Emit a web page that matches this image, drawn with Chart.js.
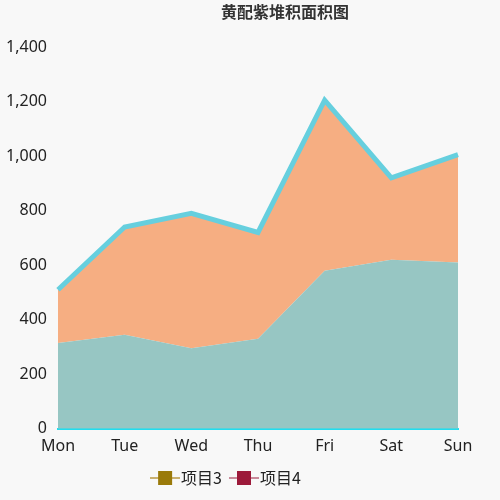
<!DOCTYPE html>
<html>
<head>
<meta charset="utf-8">
<script src="https://cdn.jsdelivr.net/npm/chart.js@4"></script>
<style>
  body { margin: 0; background: #f8f8f8; }
  #wrap { width: 500px; height: 500px; }
</style>
</head>
<body>
<div id="wrap"><canvas id="c" width="500" height="500"></canvas></div>
<script>
const days = ['Mon', 'Tue', 'Wed', 'Thu', 'Fri', 'Sat', 'Sun'];
const item3 = [315, 345, 295, 330, 580, 620, 610];
const item4 = [195, 395, 495, 390, 625, 300, 395];
const chartTitle = '黄配紫堆积面积图';

// legend marker: short line with a square in the middle
function marker(color, lineColor) {
  const cv = document.createElement('canvas');
  cv.width = 30; cv.height = 14;
  const g = cv.getContext('2d');
  g.strokeStyle = lineColor; g.lineWidth = 2;
  g.beginPath(); g.moveTo(0, 7); g.lineTo(30, 7); g.stroke();
  g.fillStyle = color; g.fillRect(8, 0, 14, 14);
  return cv;
}
const m3 = marker('#9a7a0a', '#c9b070');
const m4 = marker('#9c1a3a', '#c98a9a');

// title centred over the plot area
const titlePlugin = {
  id: 'plotTitle',
  afterDraw(chart) {
    const g = chart.ctx, a = chart.chartArea;
    g.save();
    g.font = 'bold 16px "Noto Sans CJK SC"';
    g.fillStyle = '#333';
    g.textAlign = 'center';
    g.textBaseline = 'top';
    g.fillText(chartTitle, (a.left + a.right) / 2 + 27, 4);
    g.restore();
  }
};

new Chart(document.getElementById('c'), {
  type: 'line',
  data: {
    labels: days,
    datasets: [
      { label: '项目3', data: item3, fill: 'origin', backgroundColor: '#97c6c3',
        borderWidth: 0, pointRadius: 0, tension: 0 },
      { label: '项目4', data: item4, fill: '-1', backgroundColor: '#f6ae82',
        borderColor: '#66cfde', borderWidth: 5, pointRadius: 0, tension: 0 }
    ]
  },
  options: {
    responsive: false,
    animation: false,
    layout: { padding: { left: 0, right: 42, top: 47, bottom: 4 } },
    scales: {
      x: { stacked: true, offset: false,
        grid: { display: false, drawTicks: true, tickColor: '#22ddee' },
        border: { color: '#22ddee', width: 2 },
        ticks: { color: '#222', font: { size: 16, family: 'Noto Sans' }, padding: 0 } },
      y: { stacked: true, min: 0, max: 1400,
        afterFit: (s) => { s.width = 58; },
        grid: { display: false },
        border: { display: false },
        ticks: { stepSize: 200, color: '#222', font: { size: 16, family: 'Noto Sans' } } }
    },
    plugins: {
      title: { display: false },
      legend: { position: 'bottom',
        labels: { usePointStyle: true, color: '#222', padding: 14,
          font: { size: 16, family: 'Noto Sans CJK SC' },
          generateLabels: (chart) => chart.data.datasets.map((d, i) => ({
            text: d.label, pointStyle: i === 0 ? m3 : m4, datasetIndex: i,
            fontColor: '#222', hidden: false })) } }
    }
  },
  plugins: [titlePlugin]
});
</script>
</body>
</html>
